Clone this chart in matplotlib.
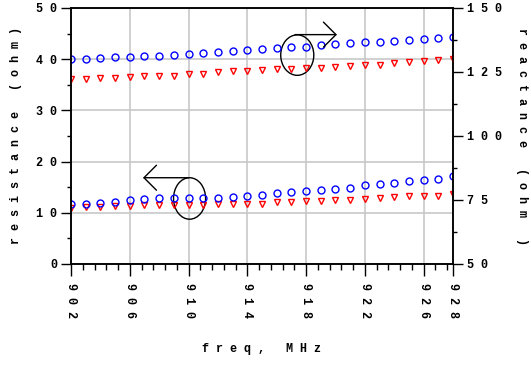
import numpy as np
import matplotlib
matplotlib.use("Agg")
import matplotlib.pyplot as plt
from matplotlib.patches import Ellipse
from matplotlib.ticker import MultipleLocator, FixedLocator

# data (1 MHz steps)
freq = np.arange(902, 929)
react_circ = [130.0, 130.0, 130.5, 130.9, 130.9, 131.4, 131.4, 131.8, 132.0, 132.4,
              132.8, 133.2, 133.6, 134.0, 134.3, 134.7, 134.7, 135.4, 135.8, 136.2,
              136.7, 136.7, 137.1, 137.5, 137.9, 138.2, 138.5]
react_tri = [122.4, 122.2, 122.7, 122.8, 123.1, 123.6, 123.3, 123.5, 124.1, 124.1,
             125.0, 125.3, 125.3, 125.7, 126.0, 126.0, 126.5, 126.7, 127.1, 127.5,
             127.7, 127.9, 128.7, 128.9, 129.2, 129.5, 130.0]
res_circ = [11.7, 11.8, 12.0, 12.2, 12.5, 12.7, 12.8, 12.9, 12.9, 12.9,
            12.9, 13.1, 13.3, 13.55, 13.8, 14.0, 14.2, 14.4, 14.7, 14.9,
            15.4, 15.6, 15.8, 16.2, 16.4, 16.65, 17.1]
res_tri = [11.0, 11.1, 11.2, 11.3, 11.4, 11.5, 11.5, 11.6, 11.6, 11.6,
           11.7, 11.8, 11.8, 11.8, 12.1, 12.1, 12.3, 12.3, 12.5, 12.5,
           12.7, 12.8, 13.0, 13.2, 13.35, 13.35, 13.75]

x_ticks = [902, 906, 910, 914, 918, 922, 926, 928]
left_ticks = [0, 10, 20, 30, 40, 50]
right_ticks = [50, 75, 100, 125, 150]

def spaced(s):
    return " ".join(str(s))

FONT = "Liberation Mono"
FS = 8.5
TXT = dict(family=FONT, fontsize=FS, fontweight='bold')

fig = plt.figure(figsize=(5.31, 3.69), dpi=100)
ax = fig.add_axes([71/531, 1-264/369, (453-71)/531, (264-8)/369])
ax2 = ax.twinx()

# resistance (left axis)
ax.plot(freq, res_tri, 'v', ms=5, mfc='none', mec='#ff0000', mew=1)
ax.plot(freq, res_circ, 'o', ms=5, mfc='none', mec='#0000ff', mew=1)
# reactance (right axis)
ax2.plot(freq, react_tri, 'v', ms=5, mfc='none', mec='#ff0000', mew=1)
ax2.plot(freq, react_circ, 'o', ms=5, mfc='none', mec='#0000ff', mew=1)

ax.set_xlim(902, 928)
ax.set_ylim(0, 50)
ax2.set_ylim(50, 150)

ax.xaxis.set_major_locator(FixedLocator(x_ticks))
ax.xaxis.set_minor_locator(FixedLocator(np.arange(902, 928.01, 0.8)))
ax.set_xticklabels([spaced(v) for v in x_ticks], rotation=-90, **TXT)
ax.set_yticks(left_ticks)
ax.set_yticklabels([spaced(v) for v in left_ticks], **TXT)
ax.yaxis.set_minor_locator(MultipleLocator(5))
ax2.set_yticks(right_ticks)
ax2.set_yticklabels([spaced(v) for v in right_ticks], **TXT)
ax2.yaxis.set_minor_locator(MultipleLocator(12.5))

ax.grid(True, which='major', color='#c8c8c8', lw=1.2)
ax.set_axisbelow(True)

ax.tick_params(axis='x', which='major', length=8.5, width=1, pad=5, direction='out')
ax.tick_params(axis='x', which='minor', length=4.3, width=1, direction='out')
ax.tick_params(axis='y', which='major', length=7, width=1, pad=3, direction='out')
ax.tick_params(axis='y', which='minor', length=3.2, width=1, direction='out')
ax2.tick_params(axis='y', which='major', length=7, width=1, pad=3, direction='out')
ax2.tick_params(axis='y', which='minor', length=3.2, width=1, direction='out')

for a in (ax, ax2):
    for s in a.spines.values():
        s.set_linewidth(1.1)

ax.set_xlabel(spaced("freq,") + "   " + spaced("MHz"), labelpad=18, **TXT)
ax.set_ylabel(spaced("resistance") + "   " + spaced("(ohm)"), labelpad=10, **TXT)
ax2.set_ylabel(spaced("reactance") + "   " + spaced("(ohm") + "   )",
               rotation=-90, va='bottom', labelpad=10, **TXT)

# annotation ellipses and arrows
ax2.add_patch(Ellipse((917.4, 131.6), 2.25, 15.8, fill=False, ec='black', lw=1))
ax2.annotate('', xy=(920.1, 139.6), xytext=(917.25, 139.6),
             arrowprops=dict(arrowstyle='->,head_length=0.45,head_width=0.45',
                             mutation_scale=20, lw=1, color='black',
                             shrinkA=0, shrinkB=0))
ax.add_patch(Ellipse((910.07, 12.8), 2.18, 8.1, fill=False, ec='black', lw=1))
ax.annotate('', xy=(906.9, 16.85), xytext=(910.0, 16.85),
            arrowprops=dict(arrowstyle='->,head_length=0.45,head_width=0.45',
                            mutation_scale=20, lw=1, color='black',
                            shrinkA=0, shrinkB=0))

fig.savefig("out.png", dpi=100)
